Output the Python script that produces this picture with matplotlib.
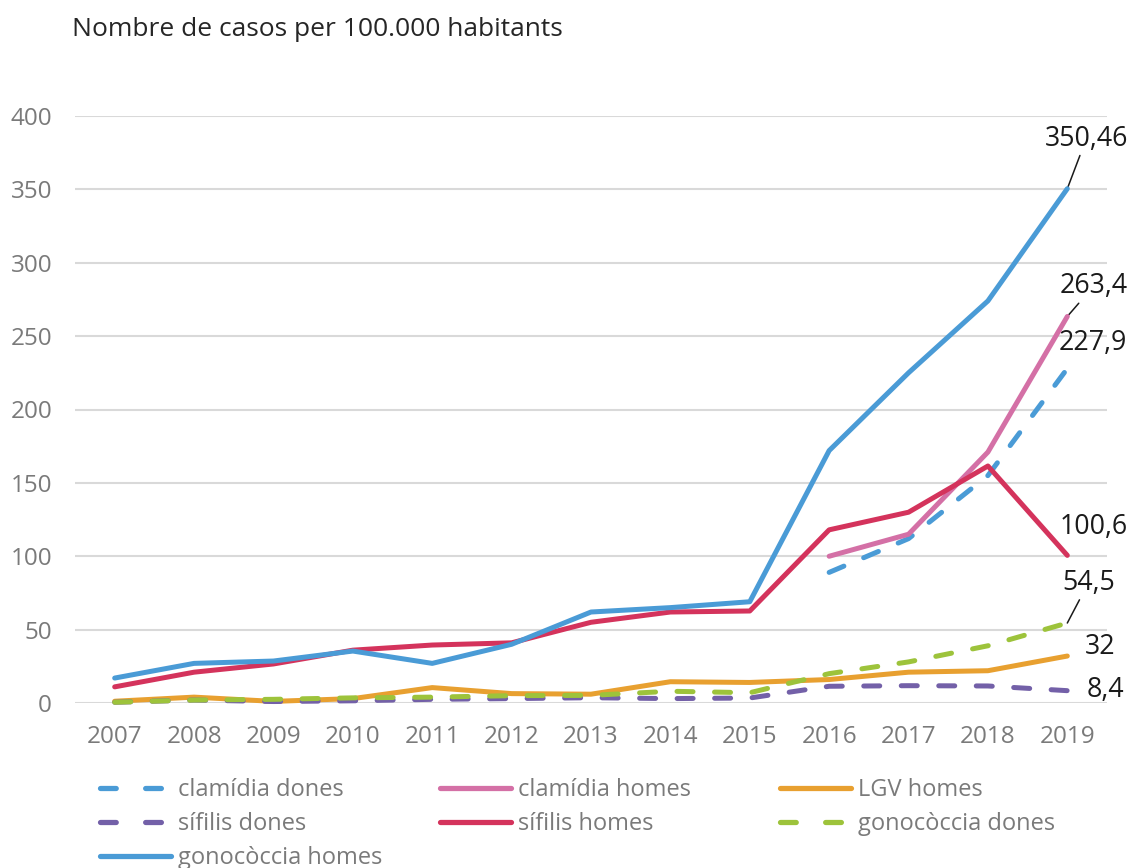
import numpy as np
import matplotlib
matplotlib.use('Agg')
import matplotlib.pyplot as plt
from matplotlib.lines import Line2D

plt.rcParams['font.family'] = ['Open Sans', 'DejaVu Sans']

# Data
years = [2007, 2008, 2009, 2010, 2011, 2012, 2013, 2014, 2015, 2016, 2017, 2018, 2019]
years_recent = [2016, 2017, 2018, 2019]

clamidia_dones = [89, 112, 155, 227.9]
clamidia_homes = [100, 115, 171, 263.4]
lgv_homes = [1.2, 4, 1.1, 3, 10.5, 6.4, 6, 14.5, 14, 16, 21, 22, 32]
sifilis_dones = [0.5, 2, 1, 1.5, 2.5, 3, 3.6, 3, 3.4, 11.4, 11.8, 11.6, 8.4]
sifilis_homes = [11, 21, 26.6, 36, 39.5, 41, 55, 62, 62.7, 118, 130, 161.5, 100.6]
gono_dones = [0.5, 2, 2.5, 3.5, 4, 5, 5.2, 8, 7, 20, 28, 39, 54.5]
gono_homes = [17, 27, 28.6, 35.4, 27, 40, 62, 65, 69, 172, 225, 274, 350.46]

yticks = [0, 50, 100, 150, 200, 250, 300, 350, 400]

c_blue = '#4A9BD6'
c_pink = '#D470A6'
c_orange = '#E8A030'
c_purple = '#7360A8'
c_red = '#D4335C'
c_green = '#9DC33B'
grey_txt = '#7A7A7A'

W, H = 1131, 868
fig = plt.figure(figsize=(W / 100, H / 100), dpi=100)
ax = fig.add_axes([75 / W, 1 - 703 / H, (1107 - 75) / W, (703 - 116) / H])

lw = 3.6
dash = (3.2, 4.3)

series = [
    ('clamídia dones', years_recent, clamidia_dones, c_blue, True),
    ('clamídia homes', years_recent, clamidia_homes, c_pink, False),
    ('LGV homes', years, lgv_homes, c_orange, False),
    ('sífilis dones', years, sifilis_dones, c_purple, True),
    ('sífilis homes', years, sifilis_homes, c_red, False),
    ('gonocòccia dones', years, gono_dones, c_green, True),
    ('gonocòccia homes', years, gono_homes, c_blue, False),
]

# draw order: bottom series first, gonococcia homes on top
z = {'LGV homes': 3, 'sífilis dones': 4, 'gonocòccia dones': 5, 'clamídia dones': 6,
     'clamídia homes': 7, 'sífilis homes': 8, 'gonocòccia homes': 9}
handles = {}
for name, x, y, col, dashed in series:
    if dashed:
        ax.plot(x, y, color=col, lw=lw, dashes=dash, dash_capstyle='round',
                solid_capstyle='round', clip_on=False, zorder=z[name])
    else:
        ax.plot(x, y, color=col, lw=lw, solid_capstyle='round',
                solid_joinstyle='round', clip_on=False, zorder=z[name])
    handles[name] = Line2D([], [], color=col, lw=lw * 1.05,
                           dashes=(3.0, 5.6) if dashed else (None, None),
                           dash_capstyle='round', solid_capstyle='round')

ax.set_xlim(2006.5, 2019.5)
ax.set_ylim(0, 400)
ax.set_xticks(years)
ax.set_xticklabels([str(y) for y in years])
ax.set_yticks(yticks)
ax.tick_params(axis='both', length=0, labelsize=17.5, labelcolor=grey_txt)
ax.tick_params(axis='x', pad=16)
ax.tick_params(axis='y', pad=16.5)
for lab in ax.get_yticklabels():
    lab.set_horizontalalignment('right')
ax.grid(axis='y', color='#D9D9D9', lw=1.5)
ax.set_axisbelow(True)
for s in ax.spines.values():
    s.set_visible(False)

fig.text(72 / W, 1 - 30 / H, 'Nombre de casos per 100.000 habitants', fontsize=19,
         color='#262626', ha='left', va='center')

# end-of-line value labels
lab_kw = dict(fontsize=19.3, color='#1A1A1A', textcoords='offset pixels', ha='center', va='center',
              annotation_clip=False)
arrow = dict(arrowstyle='-', color='#1A1A1A', lw=1.1, shrinkA=0, shrinkB=0)
ax.annotate('350,46', xy=(2019, gono_homes[-1]), xytext=(19, 50), arrowprops=arrow, **lab_kw)
ax.annotate('263,4', xy=(2019, clamidia_homes[-1]), xytext=(26, 30), arrowprops=arrow, **lab_kw)
ax.annotate('227,9', xy=(2019, clamidia_dones[-1]), xytext=(26, 26), **lab_kw)
ax.annotate('100,6', xy=(2019, sifilis_homes[-1]), xytext=(26, 28), **lab_kw)
ax.annotate('54,5', xy=(2019, gono_dones[-1]), xytext=(21, 40), arrowprops=arrow, **lab_kw)
ax.annotate('32', xy=(2019, lgv_homes[-1]), xytext=(33, 9), **lab_kw)
ax.annotate('8,4', xy=(2019, sifilis_dones[-1]), xytext=(38, 1), **lab_kw)

# legend laid out in rows of three, each column placed on its own
cols = [['clamídia dones', 'sífilis dones', 'gonocòccia homes'],
        ['clamídia homes', 'sífilis homes'],
        ['LGV homes', 'gonocòccia dones']]
col_x = [100, 440, 780]
for names, cx in zip(cols, col_x):
    leg = fig.legend([handles[n] for n in names], names, loc='upper left',
                     bbox_to_anchor=(cx / W, 1 - 778 / H), frameon=False, fontsize=17,
                     handlelength=3.0, handletextpad=0.3, labelspacing=0.42,
                     borderaxespad=0, borderpad=0)
    for t in leg.get_texts():
        t.set_color(grey_txt)

fig.savefig('out.png', dpi=100)
